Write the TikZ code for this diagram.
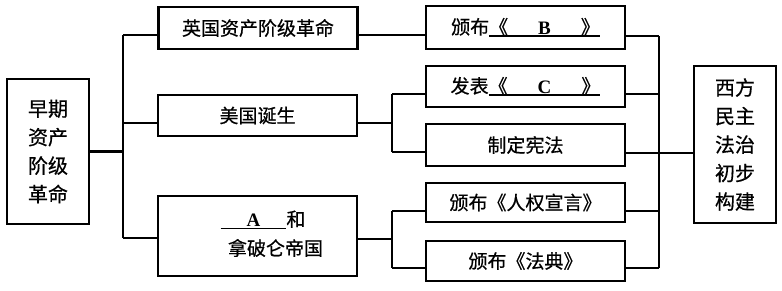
\documentclass[tikz,border=0pt]{standalone}
\usepackage{fontspec}
\setmainfont{Liberation Serif}
\newfontfamily\cjk[FakeBold=0.6]{Noto Sans CJK SC}
\usepackage{tikz}
\usetikzlibrary{calc,positioning}
\newcommand{\fillin}[1]{\setbox0=\hbox{#1}\rlap{\rule[-3pt]{\wd0}{1.8pt}}\box0}

\begin{document}
\begin{tikzpicture}[x=1pt,y=-1pt,line width=2.6pt,
  box/.style={draw,inner sep=0pt,minimum width=199pt,font=\cjk\fontsize{19}{22}\selectfont},
  tall/.style={draw,inner sep=0pt,minimum width=82pt,align=center,font=\cjk\fontsize{20}{28.5}\selectfont},
  txt/.style={inner sep=0pt,font=\cjk\fontsize{19}{22}\selectfont}]
\useasboundingbox (0,0) rectangle (782,290);
% outer boxes
\node[tall,minimum height=145pt] (early) at (48,151.5) {早期\\资产\\阶级\\革命};
\node[tall,minimum height=157pt] (west) at (735,144.5) {西方\\民主\\法治\\初步\\构建};
% first column
\node[box,minimum height=42pt] (ying) at (258,28) {英国资产阶级革命};
\node[box,minimum height=41pt] (mei) at (257.5,115.5) {美国诞生};
\node[box,minimum height=80pt] (fa) at (257.5,236) {};
\node[txt] (faA) at (263,220) {\fillin{\hspace{26pt}\textrm{\bfseries A}\hspace{26pt}}和};
\node[txt] (faN) at (275.5,248) {拿破仑帝国};
% second column
\node[box,minimum height=43pt] (doc1) at (525.5,27.5) {颁布\fillin{《\hspace{30pt}\textrm{\bfseries B}\hspace{30pt}》}};
\node[box,minimum height=41pt] (doc2) at (525.5,86.5) {发表\fillin{《\hspace{30pt}\textrm{\bfseries C}\hspace{30pt}》}};
\node[box,minimum height=42pt] (doc3) at (525.5,145) {制定宪法};
\node[box,minimum height=39pt] (doc4) at (525.5,202.5) {颁布《人权宣言》};
\node[box,minimum height=40pt] (doc5) at (525.5,261) {颁布《法典》};

% left tree
\coordinate (s1) at (123,35);
\coordinate (s2) at (123,123);
\coordinate (s3) at (123,238);
\draw (early.east) -- (early.east -| s1);
\draw (s1) -- (s3);
\foreach \b/\i in {ying/1,mei/2,fa/3}{
  \draw (s\i) -- (\b.west |- s\i);
}
\draw (ying.east |- s1) -- (doc1.west |- s1);
% middle forks
\coordinate (m0) at (392,123);
\coordinate (m1) at (392,94);
\coordinate (m2) at (392,152);
\draw (mei.east |- m0) -- (m0);
\draw (m1) -- (m2);
\draw (m1) -- (doc2.west |- m1);
\draw (m2) -- (doc3.west |- m2);
\coordinate (n0) at (392,239);
\coordinate (n1) at (392,211);
\coordinate (n2) at (392,268);
\draw (fa.east |- n0) -- (n0);
\draw (n1) -- (n2);
\draw (n1) -- (doc4.west |- n1);
\draw (n2) -- (doc5.west |- n2);
% right tree
\foreach \i/\y in {1/36,2/94,3/153,4/211,5/268}{
  \coordinate (e\i) at (659,\y);
  \draw (doc\i.east |- e\i) -- (e\i);
}
\draw (e1) -- (e5);
\draw (e3) -- (west.west |- e3);
\end{tikzpicture}
\end{document}
